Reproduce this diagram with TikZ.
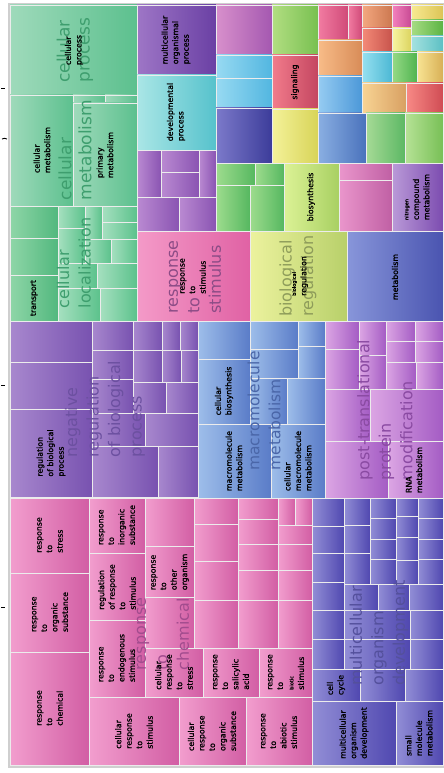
\documentclass[tikz,border=0pt]{standalone}
\usepackage{fontspec}
\setmainfont{DejaVu Sans}
\newfontfamily\termfont{DejaVu Sans}[FakeBold=1.4]
\usepackage{tikz}

% tile colours: light (left) and dark (right) ends
\definecolor{mintL}{HTML}{9FDABB}\definecolor{mintD}{HTML}{5CC08E}
\definecolor{locL}{HTML}{A6E0C0}\definecolor{locD}{HTML}{5CC28C}
\definecolor{trnL}{HTML}{8FD6A8}\definecolor{trnD}{HTML}{52B87E}
\definecolor{orgpL}{HTML}{9E76C6}\definecolor{orgpD}{HTML}{6A40A4}
\definecolor{devL}{HTML}{AAE6E6}\definecolor{devD}{HTML}{56C2CC}
\definecolor{violL}{HTML}{BA8AD2}\definecolor{violD}{HTML}{8A54B2}
\definecolor{magL}{HTML}{D890CC}\definecolor{magD}{HTML}{A458B0}
\definecolor{skyL}{HTML}{98DAF2}\definecolor{skyD}{HTML}{52B6E0}
\definecolor{indL}{HTML}{7C7ACA}\definecolor{indD}{HTML}{3C3C9A}
\definecolor{lgrL}{HTML}{B2DE82}\definecolor{lgrD}{HTML}{78C050}
\definecolor{sigL}{HTML}{F27C8C}\definecolor{sigD}{HTML}{C44660}
\definecolor{yelL}{HTML}{F4F29A}\definecolor{yelD}{HTML}{D8D458}
\definecolor{rosL}{HTML}{F27CA2}\definecolor{rosD}{HTML}{D04A78}
\definecolor{orL}{HTML}{F8BC88}\definecolor{orD}{HTML}{D88C58}
\definecolor{blL}{HTML}{96CCF2}\definecolor{blD}{HTML}{4C98D8}
\definecolor{bltL}{HTML}{8AAFE2}\definecolor{bltD}{HTML}{4A72BC}
\definecolor{ortL}{HTML}{F4A880}\definecolor{ortD}{HTML}{CC7850}
\definecolor{salL}{HTML}{F48A78}\definecolor{salD}{HTML}{C8544C}
\definecolor{pinkL}{HTML}{F482BE}\definecolor{pinkD}{HTML}{C84A94}
\definecolor{yetL}{HTML}{F8F6A2}\definecolor{yetD}{HTML}{DCD460}
\definecolor{yehL}{HTML}{F8EA92}\definecolor{yehD}{HTML}{DCC456}
\definecolor{grL}{HTML}{A8DC84}\definecolor{grD}{HTML}{5CB444}
\definecolor{tealL}{HTML}{A6E2E0}\definecolor{tealD}{HTML}{5CC0C4}
\definecolor{cyL}{HTML}{96E0F0}\definecolor{cyD}{HTML}{4CB8D4}
\definecolor{grtL}{HTML}{96DA86}\definecolor{grtD}{HTML}{50B450}
\definecolor{ambL}{HTML}{F8E494}\definecolor{ambD}{HTML}{D8B056}
\definecolor{orhL}{HTML}{F8D494}\definecolor{orhD}{HTML}{D8A062}
\definecolor{redL}{HTML}{F88A86}\definecolor{redD}{HTML}{D04C54}
\definecolor{grhL}{HTML}{A6DA96}\definecolor{grhD}{HTML}{5CB864}
\definecolor{grfL}{HTML}{B6E296}\definecolor{grfD}{HTML}{78C056}
\definecolor{grvL}{HTML}{9EDC8E}\definecolor{grvD}{HTML}{56B860}
\definecolor{bioL}{HTML}{DCF296}\definecolor{bioD}{HTML}{A8D062}
\definecolor{orchL}{HTML}{EA96CC}\definecolor{orchD}{HTML}{C060A4}
\definecolor{nitL}{HTML}{BA9AD8}\definecolor{nitD}{HTML}{7C4CB0}
\definecolor{rtsL}{HTML}{F49AC8}\definecolor{rtsD}{HTML}{E062A4}
\definecolor{bregL}{HTML}{ECF29E}\definecolor{bregD}{HTML}{B8D06A}
\definecolor{metL}{HTML}{8896DA}\definecolor{metD}{HTML}{4A54B0}
\definecolor{negL}{HTML}{A888CE}\definecolor{negD}{HTML}{7852B0}
\definecolor{macL}{HTML}{9EBEEA}\definecolor{macD}{HTML}{5A7CC8}
\definecolor{ptmL}{HTML}{DCA6E4}\definecolor{ptmD}{HTML}{A45CC4}
\definecolor{chemL}{HTML}{F29ECE}\definecolor{chemD}{HTML}{D25EA4}
\definecolor{mcdL}{HTML}{928ED6}\definecolor{mcdD}{HTML}{5048B0}
% group label colours
\definecolor{cpTxt}{HTML}{3E9E6E}
\definecolor{rtsTxt}{HTML}{8C4C86}
\definecolor{bregTxt}{HTML}{8E9C5A}
\definecolor{negTxt}{HTML}{6C50A0}
\definecolor{macTxt}{HTML}{4A66A8}
\definecolor{ptmTxt}{HTML}{8A4AA2}
\definecolor{chemTxt}{HTML}{A24C8E}
\definecolor{mcdTxt}{HTML}{54509C}
\definecolor{framegray}{HTML}{CFCFCF}

\tikzset{
  tilegap/.style={draw=white!85!gray, line width=0.9pt},
  termlabel/.style={rotate=90, align=left, inner sep=0pt, text=black,
    font=\termfont\fontsize{7.8}{10.5}\selectfont},
  grouplabel/.style={rotate=90, align=left, inner sep=0pt,
    font=\fontsize{16}{21.5}\selectfont},
}
\newcommand\tile[6]{%
  \shade[left color=#5, right color=#6] (#1,#2) rectangle (#3,#4);
  \draw[tilegap] (#1,#2) rectangle (#3,#4);}
\newcommand\tinyword[1]{{\fontsize{5}{5}\selectfont #1}}

\begin{document}
\begin{tikzpicture}[x=1pt,y=-1pt]
\useasboundingbox (0,0) rectangle (444,773);
\fill[white] (0,0) rectangle (444,773);
\fill[framegray] (8,3) rectangle (444,768);
%
% marks at the left edge
\draw[line width=0.9pt] (1,88) -- (5,88);
\draw[line width=0.9pt] (2,139) arc[start angle=120, end angle=60, radius=5pt];
\draw[line width=0.9pt] (1,385) -- (5,385);
\draw[line width=0.9pt] (1,607) -- (5,607);
%
% cellular process / cellular metabolism
\tile{10}{5}{137}{95}{mintL}{mintD}
\foreach \xa/\ya/\xb/\yb in {10/95/73/206, 73/95/105/103, 105/95/137/103, 73/103/137/206}
  {\tile{\xa}{\ya}{\xb}{\yb}{mintL}{mintD}}
% cellular localization
\foreach \xa/\ya/\xb/\yb in {10/206/58/238, 10/238/58/275, 10/275/58/321}
  {\tile{\xa}{\ya}{\xb}{\yb}{trnL}{trnD}}
\foreach \xa/\ya/\xb/\yb in {58/206/85/228, 58/228/85/263, 85/206/102/239, 102/206/137/222,
    102/222/137/239, 85/239/111/263, 111/239/137/263, 58/263/97/288, 97/263/137/288,
    58/288/100/321, 100/288/137/321}
  {\tile{\xa}{\ya}{\xb}{\yb}{locL}{locD}}
%
% upper middle columns
\tile{137}{5}{216}{75}{orgpL}{orgpD}
\tile{137}{75}{216}{150}{devL}{devD}
\foreach \xa/\ya/\xb/\yb in {137/150/161/197, 161/150/199/172, 161/172/199/197, 199/150/216/197,
    137/197/179/231, 179/197/216/231}
  {\tile{\xa}{\ya}{\xb}{\yb}{violL}{violD}}
\tile{216}{5}{272}{55}{magL}{magD}
\tile{216}{55}{272}{78}{skyL}{skyD}
\tile{216}{78}{272}{108}{skyL}{skyD}
\tile{216}{108}{272}{163}{indL}{indD}
\tile{272}{5}{318}{55}{lgrL}{lgrD}
\tile{272}{55}{318}{109}{sigL}{sigD}
\tile{272}{109}{318}{163}{yelL}{yelD}
%
% upper right corner
\tile{318}{5}{348}{40}{rosL}{rosD}
\tile{348}{5}{362}{40}{rosL}{rosD}
\tile{318}{40}{362}{76}{orL}{orD}
\tile{318}{76}{362}{113}{blL}{blD}
\tile{318}{113}{366}{163}{bltL}{bltD}
\tile{362}{5}{392}{28}{ortL}{ortD}
\tile{362}{28}{392}{52}{salL}{salD}
\tile{392}{5}{411}{28}{pinkL}{pinkD}
\tile{392}{28}{411}{52}{yetL}{yetD}
\tile{411}{5}{443}{20}{yehL}{yehD}
\tile{411}{20}{443}{36}{grL}{grD}
\tile{411}{36}{443}{52}{tealL}{tealD}
\tile{362}{52}{392}{83}{cyL}{cyD}
\tile{392}{52}{417}{83}{grtL}{grtD}
\tile{417}{52}{443}{83}{ambL}{ambD}
\tile{362}{83}{406}{113}{orhL}{orhD}
\tile{406}{83}{443}{113}{redL}{redD}
\tile{366}{113}{405}{163}{grhL}{grhD}
\tile{405}{113}{443}{163}{grfL}{grfD}
%
% row under the corner
\foreach \xa/\ya/\xb/\yb in {216/163/255/185, 255/163/284/185, 216/185/250/231, 250/185/284/231}
  {\tile{\xa}{\ya}{\xb}{\yb}{grvL}{grvD}}
\tile{284}{163}{339}{231}{bioL}{bioD}
\tile{339}{163}{392}{180}{orchL}{orchD}
\tile{339}{180}{392}{231}{orchL}{orchD}
\tile{392}{163}{443}{231}{nitL}{nitD}
\tile{137}{231}{250}{321}{rtsL}{rtsD}
\tile{250}{231}{347}{321}{bregL}{bregD}
\tile{347}{231}{443}{321}{metL}{metD}
%
% negative regulation of biological process
\foreach \xa/\ya/\xb/\yb in {10/321/92/362, 10/362/92/409, 10/409/92/497, 92/321/133/350,
    92/350/133/379, 92/379/133/413, 133/321/162/350, 162/321/180/350, 180/321/198/350,
    133/350/162/382, 162/350/181/382, 181/350/198/382, 133/382/166/413, 166/382/198/413,
    92/413/145/446, 145/413/198/446, 92/446/158/497, 158/446/198/497}
  {\tile{\xa}{\ya}{\xb}{\yb}{negL}{negD}}
% macromolecule metabolism
\foreach \xa/\ya/\xb/\yb in {198/321/250/359, 250/321/298/349, 250/349/298/378, 298/321/325/346,
    298/346/325/378, 198/359/250/424, 250/378/287/424, 287/378/325/424, 198/424/271/498,
    271/424/325/498}
  {\tile{\xa}{\ya}{\xb}{\yb}{macL}{macD}}
% post-translational protein modification
\foreach \xa/\ya/\xb/\yb in {325/321/359/349, 325/349/359/389, 359/321/386/355, 359/355/386/389,
    386/321/415/341, 415/321/443/341, 386/341/415/362, 415/341/443/362, 386/362/416/389,
    416/362/443/389, 325/389/370/441, 370/389/443/441, 325/441/388/498, 388/441/443/498}
  {\tile{\xa}{\ya}{\xb}{\yb}{ptmL}{ptmD}}
%
% response to chemical
\foreach \xa/\ya/\xb/\yb in {10/498/89/573, 10/573/89/652, 10/652/89/765, 89/498/145/553,
    89/553/145/620, 89/620/145/697, 89/697/179/765, 145/498/194/546, 145/546/194/597,
    145/597/194/648, 145/648/203/697, 203/648/259/697, 259/648/312/697, 179/697/246/765,
    246/697/312/765, 194/498/238/524, 194/524/238/561, 194/561/238/600, 194/600/238/648,
    238/498/278/519, 238/519/278/544, 238/544/278/570, 238/570/278/600, 238/600/278/648,
    278/498/295/525, 295/498/312/525, 278/525/312/544, 278/544/312/570, 278/570/312/600,
    278/600/312/648}
  {\tile{\xa}{\ya}{\xb}{\yb}{chemL}{chemD}}
% multicellular organism development
\foreach \xa/\ya/\xb/\yb in {312/498/344/526, 312/526/344/553, 312/553/344/582, 312/582/344/610,
    312/610/344/639, 312/639/344/669, 344/498/370/525, 344/525/370/553, 344/553/370/584,
    370/498/396/518, 370/518/396/539, 370/539/396/559, 370/559/396/584,
    396/498/418/516, 396/516/418/537, 396/537/418/560, 396/560/418/584,
    418/498/443/518, 418/518/443/539, 418/539/443/559, 418/559/443/584,
    344/584/378/610, 378/584/409/610, 409/584/443/610, 344/610/410/639, 410/610/443/639,
    344/639/410/669, 410/639/443/669, 312/669/360/701, 360/669/405/701, 405/669/443/701,
    312/701/396/765, 396/701/443/765}
  {\tile{\xa}{\ya}{\xb}{\yb}{mcdL}{mcdD}}
%
% group labels
\node[grouplabel, text=cpTxt, font=\fontsize{17}{20}\selectfont] (g-cp) at (75,50) {cellular\\process};
\node[grouplabel, text=cpTxt, font=\fontsize{17}{20}\selectfont] (g-cm) at (75,150) {cellular\\metabolism};
\node[grouplabel, text=cpTxt] (g-cl) at (74,263) {cellular\\localization};
\node[grouplabel, text=rtsTxt] (g-rts) at (195,277) {response\\to\\stimulus};
\node[grouplabel, text=bregTxt] (g-breg) at (298,276) {biological\\regulation};
\node[grouplabel, text=negTxt] (g-neg) at (105,409) {negative\\regulation\\of biological\\process};
\node[grouplabel, text=macTxt, font=\fontsize{15.5}{21}\selectfont] (g-mac) at (264,411) {macromolecule\\metabolism};
\node[grouplabel, text=ptmTxt] (g-ptm) at (385,410) {post-translational\\protein\\modification};
\node[grouplabel, text=chemTxt] (g-chem) at (163,634) {response\\to\\chemical};
\node[grouplabel, text=mcdTxt] (g-mcd) at (379,633) {multicellular\\organism\\development};
%
% term labels
\node[termlabel] (t-cp) at (74,50) {cellular\\process};
\node[termlabel] (t-cm) at (42,150) {cellular\\metabolism};
\node[termlabel] (t-pm) at (105,155) {primary\\metabolism};
\node[termlabel] (t-tr) at (34,298) {transport};
\node[termlabel] (t-mop) at (176,40) {multicellular\\organismal\\process};
\node[termlabel] (t-dev) at (176,112) {developmental\\process};
\node[termlabel] (t-sig) at (295,82) {signaling};
\node[termlabel] (t-bio) at (311,197) {biosynthesis};
\node[termlabel] (t-nit) at (417,197) {\tinyword{nitrogen}\\compound\\metabolism};
\node[termlabel] (t-rts) at (193,276) {response\\to\\stimulus};
\node[termlabel] (t-breg) at (300,276) {\tinyword{biological}\\regulation};
\node[termlabel] (t-met) at (395,277) {metabolism};
\node[termlabel] (t-rbp) at (51,453) {regulation\\of biological\\process};
\node[termlabel] (t-cb) at (224,391) {cellular\\biosynthesis};
\node[termlabel] (t-mm) at (234,461) {macromolecule\\metabolism};
\node[termlabel] (t-cmm) at (298,461) {cellular\\macromolecule\\metabolism};
\node[termlabel] (t-rna) at (414,470) {RNA\\metabolism};
\node[termlabel] (t-rst) at (50,535) {response\\to\\stress};
\node[termlabel] (t-ros) at (50,612) {response\\to\\organic\\substance};
\node[termlabel] (t-rch) at (50,708) {response\\to\\chemical};
\node[termlabel] (t-ris) at (117,525) {response\\to\\inorganic\\substance};
\node[termlabel] (t-rrs) at (117,587) {regulation\\of response\\to\\stimulus};
\node[termlabel] (t-res) at (117,658) {response\\to\\endogenous\\stimulus};
\node[termlabel] (t-crs) at (134,731) {cellular\\response\\to\\stimulus};
\node[termlabel] (t-roo) at (170,572) {response\\to\\other\\organism};
\node[termlabel] (t-crst) at (174,672) {cellular\\response\\to\\stress};
\node[termlabel] (t-rsa) at (231,672) {response\\to\\salicylic\\acid};
\node[termlabel] (t-rbs) at (286,672) {response\\to\\\tinyword{biotic}\\stimulus};
\node[termlabel] (t-cros) at (212,731) {cellular\\response\\to\\organic\\substance};
\node[termlabel] (t-ras) at (279,731) {response\\to\\abiotic\\stimulus};
\node[termlabel] (t-cc) at (336,685) {cell\\cycle};
\node[termlabel] (t-mod) at (354,733) {multicellular\\organism\\development};
\node[termlabel] (t-smm) at (419,733) {small\\molecule\\metabolism};
%%%%%%%%%%%%%%%%%%%%%%%%%%%%%%%
\end{tikzpicture}
\end{document}
